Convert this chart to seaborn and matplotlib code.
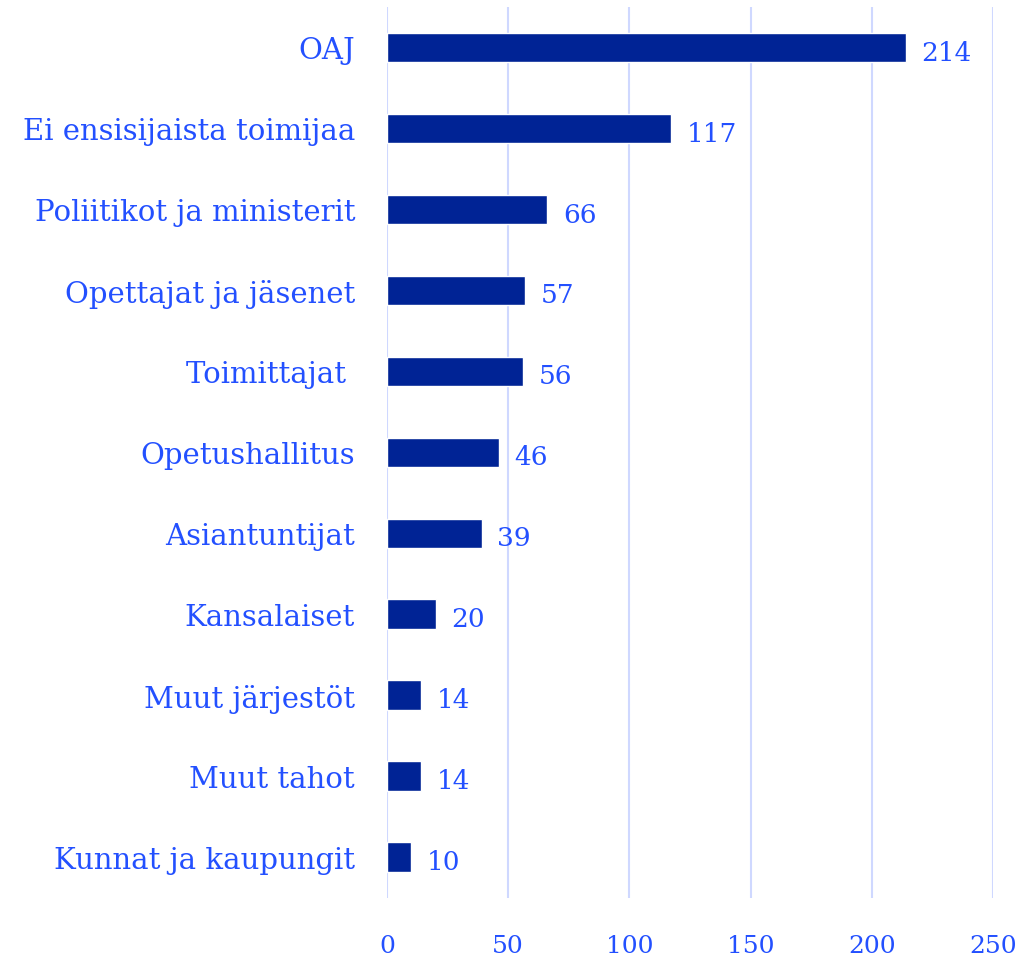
import pandas as pd
import seaborn as sns
import matplotlib
import matplotlib.pyplot as plt

matplotlib.use('Agg')

# Data
categories = ["OAJ", "Ei ensisijaista toimijaa", "Poliitikot ja ministerit",
              "Opettajat ja jäsenet", "Toimittajat ", "Opetushallitus",
              "Asiantuntijat", "Kansalaiset", "Muut järjestöt", "Muut tahot",
              "Kunnat ja kaupungit"]
counts = [214, 117, 66, 57, 56, 46, 39, 20, 14, 14, 10]
x_ticks = [0, 50, 100, 150, 200, 250]

BAR = "#002395"
TEXT = "#2350ff"
GRID = "#cfd8ff"

sns.set_theme(style="white")
plt.rcParams['font.family'] = ['DejaVu Serif']

df = pd.DataFrame({"toimija": categories, "n": counts})

fig = plt.figure(figsize=(10.25, 9.62), dpi=100)
ax = fig.add_axes([0.3776, 0.066, 0.5912, 0.926])

sns.barplot(data=df, y="toimija", x="n", orient="h", color=BAR,
            width=0.36, saturation=1, ax=ax, zorder=3)

ax.set_xlim(0, 250)
ax.set_ylim(10.5, -0.5)
ax.set_xticks(x_ticks)
ax.set_xlabel("")
ax.set_ylabel("")
ax.grid(axis="x", color=GRID, linewidth=1.5, zorder=0)
ax.set_axisbelow(True)
for s in ax.spines.values():
    s.set_visible(False)

ax.tick_params(axis="y", length=0, pad=23, labelsize=21, labelcolor=TEXT)
ax.tick_params(axis="x", length=0, pad=26, labelsize=18, labelcolor=TEXT)

for i, v in enumerate(counts):
    ax.text(v + 6.5, i + 0.06, str(v), va="center", ha="left",
            fontsize=19, color=TEXT)

fig.savefig("out.png", dpi=100)
